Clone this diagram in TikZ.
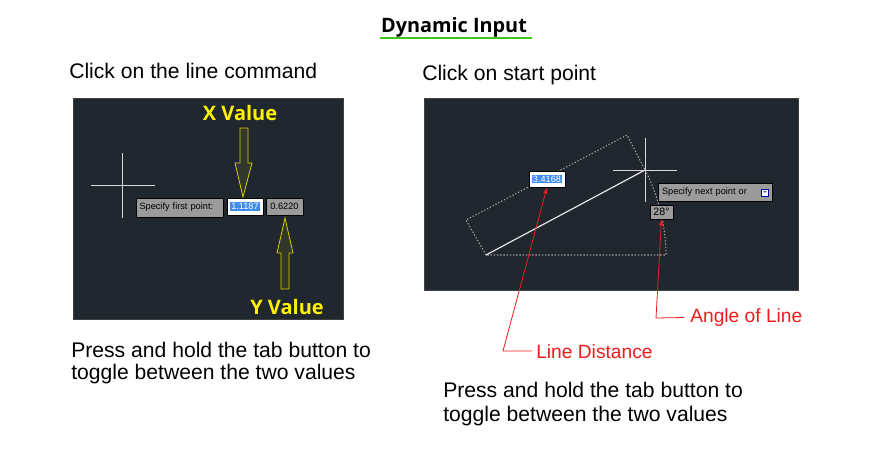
\documentclass[tikz,border=0pt]{standalone}
\usepackage{fontspec}
\setmainfont{Liberation Sans}
\newfontfamily\headfont{Open Sans}
\usetikzlibrary{arrows}
\usetikzlibrary{positioning}
\definecolor{mpanel}{HTML}{20272F}
\definecolor{mtip}{HTML}{9B9B9B}
\definecolor{mselect}{HTML}{3F8CF0}
\definecolor{myellow}{HTML}{FFF200}
\definecolor{munder}{RGB}{60, 200, 20}
\definecolor{mred}{HTML}{EE1C1C}
\setlength{\fboxsep}{0.8pt}
\tikzset{
  note/.style={anchor=west, inner sep=0, font=\fontsize{15.85}{18}\selectfont},
  panel/.style={draw=black!75, line width=0.6pt, fill=mpanel},
  tip/.style={fill=mtip, draw=black, line width=0.5pt, inner sep=0, text=black, font=\fontsize{6.9}{8}\selectfont},
  valuebox/.style={fill=white, draw=black, line width=0.5pt, inner sep=0, font=\fontsize{6.9}{8}\selectfont},
  cross/.style={white!85!black, line width=0.7pt},
  dots/.style={white!65!black, line width=0.8pt, dash pattern=on 1pt off 1.4pt},
  bigarrow/.style={draw=myellow!85!black, fill=myellow!8!mpanel, line width=0.6pt},
  yellowtext/.style={text=myellow, font=\headfont\bfseries\fontsize{15}{17}\selectfont},
  redtext/.style={anchor=west, inner sep=0, text=mred, font=\fontsize{14.4}{17}\selectfont},
  redline/.style={mred, line width=0.6pt, ->, >=latex}
}
\begin{document}
\begin{tikzpicture}[x=0.75pt, y=-0.75pt]
    \useasboundingbox [fill=white] (0, 0) rectangle (871, 450);

    \node [inner sep=0, font=\headfont\bfseries\fontsize{14.9}{17}\selectfont] (title) at (454, 27.5) {Dynamic Input};

    \node [note] (clickline) at (69, 71) {Click on the line command};
    \node [note] (clickstart) at (422, 75) {Click on start point};

    % left panel
    \draw [panel] (73, 98) rectangle (343, 319);

    \draw [cross] (122.7, 153) -- (122.7, 218);
    \draw [cross] (91, 185) -- (155, 185);

    \node [tip, minimum width=65.25pt, minimum height=14.25pt, text width=60pt, align=left] (firstpoint) at (179.5, 207.5) {Specify first point:};
    \node [valuebox, minimum width=27pt, minimum height=12.75pt] (xbox) at (245, 206.5) {\colorbox{mselect}{\textcolor{white}{1.1187}}\hspace{3pt}};
    \node [tip, minimum width=27.75pt, minimum height=12.75pt] (ybox) at (284.5, 206.5) {0.6220};

    \draw [bigarrow] (240, 128) -- (248, 128) -- (248, 163) -- (252, 163) -- (243, 197) -- (235, 163) -- (240, 163) -- cycle;
    \draw [bigarrow] (285, 218) -- (293, 253) -- (289, 253) -- (289, 289) -- (281, 289) -- (281, 253) -- (277, 253) -- cycle;

    \node [yellowtext] (xvalue) at (240, 113) {X Value};
    \node [yellowtext] (yvalue) at (287, 307) {Y Value};

    % right panel
    \draw [panel] (424, 98) rectangle (798, 290);

    \draw [dots] (486, 255) -- (466, 220) -- (627, 135) -- (645, 170);
    \draw [dots] (645, 170) .. controls (657, 192) and (666, 225) .. (666, 255) -- (486, 255);
    \draw [white!90!black, line width=0.9pt] (486, 255) -- (645, 170);

    \draw [cross] (645, 138) -- (645, 202);
    \draw [cross] (613, 170) -- (677, 170);

    \node [valuebox, minimum width=27pt, minimum height=12pt] (distbox) at (547, 179) {\colorbox{mselect}{\textcolor{white}{3.4168}}\hspace{1pt}};
    \node [tip, minimum width=85.5pt, minimum height=13.5pt, text width=79.5pt, align=left] (nextpoint) at (715, 192) {Specify next point or};
    \node [tip, minimum width=17.25pt, minimum height=10.5pt, font=\fontsize{8}{9}\selectfont] (anglebox) at (661.5, 212) {28\textdegree};
    \node [fill=white, draw=blue!60!black, line width=0.5pt, minimum size=5.5pt, inner sep=0] (plusbox) at (765, 193) {};
    \node [inner sep=0, font=\fontsize{5}{5}\selectfont] (plus) at (plusbox) {+};

    \node [redtext] (distlabel) at (536, 352) {Line Distance};
    \node [redtext] (anglelabel) at (690, 317.5) {Angle of Line};
    \coordinate (distbend) at (503, 351);
    \coordinate (anglebend) at (656, 318);
    \draw [redline] (distlabel.west) ++(-4, -1) -- (distbend) -- (distbox.south);
    \draw [redline] (anglelabel.west) ++(-6, 0) -- (anglebend) -- (anglebox.south);

    \node [note] (pressleft) at (71, 350) {Press and hold the tab button to};
    \node [note] (toggleleft) at (71, 374) {toggle between the two values};
    \node [note] (pressright) at (443, 390) {Press and hold the tab button to};
    \node [note] (toggleright) at (443, 416) {toggle between the two values};

    \coordinate (underleft) at (380, 38);
    \coordinate (underright) at (532, 38);
    \draw [munder, line width=1.6pt] (underleft) -- (underright);
  \end{tikzpicture}
\end{document}
